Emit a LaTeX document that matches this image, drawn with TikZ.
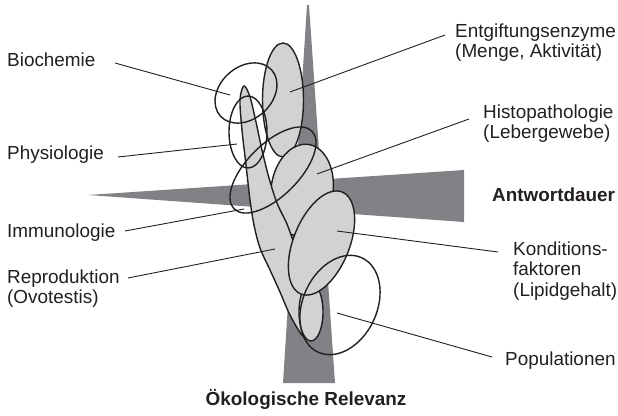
\documentclass[tikz,border=0pt]{standalone}
\usepackage{fontspec}
\setmainfont{Liberation Sans}
\definecolor{lgray}{HTML}{D1D2D4}
\definecolor{dgray}{HTML}{808285}
\definecolor{ink}{HTML}{231F20}
\tikzset{
  blob/.style={fill=lgray, draw=ink, line width=1.4pt},
  ring/.style={draw=ink, line width=1.4pt},
  wedge/.style={fill=dgray},
  leader/.style={draw=ink, line width=0.9pt},
  lab/.style={font=\fontsize{18.9}{20.5}\selectfont, inner sep=0pt, text=ink, anchor=base west},
  blab/.style={lab, font=\fontsize{18.9}{20.5}\selectfont\bfseries},
}
\begin{document}
\begin{tikzpicture}[x=1pt, y=-1pt]
\useasboundingbox (0,0) rectangle (618,415);
% grey wedges (axes)
\fill[wedge] (307,5) -- (309,5) -- (335,383) -- (283,383) -- cycle;
\fill[wedge] (88,195) -- (464,170) -- (464,222) -- cycle;
% filled shapes
\draw[blob] (283,100) ellipse (20.5 and 57);
\draw[blob, rotate around={-8:(302,190)}] (302,190) ellipse (31 and 46);
\draw[blob] plot[smooth cycle, tension=0.55] coordinates {
  (244,86) (250,97) (256,122) (262,150) (269,178) (277,203) (287,224)
  (294,243) (306,270) (311,300) (309,328) (303,336)
  (290,315) (280,292) (270,270) (260,248) (254,225) (250,200)
  (246,165) (242,130) (240,100)};
\draw[blob] (311,312) ellipse (12 and 29);
\draw[blob, rotate around={68:(321.5,243)}] (321.5,243) ellipse (55 and 28);
% open rings
\draw[ring, rotate around={42:(246,93)}] (246,93) ellipse (34.5 and 26);
\draw[ring] (248,132) ellipse (19 and 36);
\draw[ring, rotate around={45:(273,170)}] (273,170) ellipse (55 and 26);
\draw[ring, rotate around={65:(340,305)}] (340,305) ellipse (52 and 37);
% labels
\node[lab] (bio) at (7,66) {Biochemie};
\node[lab] (phys) at (7,159) {Physiologie};
\node[lab] (imm) at (7,237) {Immunologie};
\node[lab] (rep1) at (7,283) {Reproduktion};
\node[lab] (rep2) at (7,303) {(Ovotestis)};
\node[lab] (ent1) at (455,37) {Entgiftungsenzyme};
\node[lab] (ent2) at (455,57) {(Menge, Aktivität)};
\node[lab] (his1) at (483,118) {Histopathologie};
\node[lab] (his2) at (483,138) {(Lebergewebe)};
\node[blab] (ant) at (492,201) {Antwortdauer};
\node[lab] (kon1) at (513,255) {Konditions-};
\node[lab] (kon2) at (513,275) {faktoren};
\node[lab] (kon3) at (513,296) {(Lipidgehalt)};
\node[lab] (pop) at (505,365) {Populationen};
\node[blab, anchor=base] (oek) at (306,405) {Ökologische Relevanz};
% leader end points
\coordinate (bioS) at (115,63);  \coordinate (bioE) at (230,95);
\coordinate (physS) at (118,157); \coordinate (physE) at (237,144);
\coordinate (immS) at (125,231); \coordinate (immE) at (244,209);
\coordinate (repS) at (128,278); \coordinate (repE) at (275,249);
\coordinate (entS) at (445,35);  \coordinate (entE) at (290,92);
\coordinate (hisS) at (469,119); \coordinate (hisE) at (317,174);
\coordinate (konS) at (498,252); \coordinate (konE) at (337,231);
\coordinate (popS) at (492,357); \coordinate (popE) at (337,313);
\draw[leader] (bioS) -- (bioE);
\draw[leader] (physS) -- (physE);
\draw[leader] (immS) -- (immE);
\draw[leader] (repS) -- (repE);
\draw[leader] (entS) -- (entE);
\draw[leader] (hisS) -- (hisE);
\draw[leader] (konS) -- (konE);
\draw[leader] (popS) -- (popE);
\end{tikzpicture}
\end{document}
